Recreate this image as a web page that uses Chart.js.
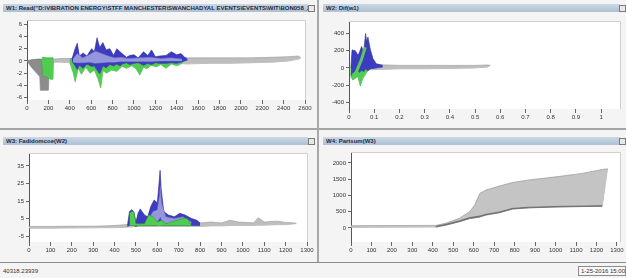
<!DOCTYPE html>
<html>
<head>
<meta charset="utf-8">
<script src="https://cdn.jsdelivr.net/npm/chart.js@4.4.0/dist/chart.umd.min.js"></script>
<style>
  html, body { margin: 0; padding: 0; width: 626px; height: 278px; overflow: hidden; background: #f4f4f4; font-family: "Liberation Sans", Arial, sans-serif; }
  .bar { position: absolute; height: 8px; background: linear-gradient(#cbd8e5, #adbfd1); color: #1b2b48; font-size: 6px; font-weight: bold; line-height: 8px; padding-left: 3px; white-space: nowrap; overflow: hidden; box-sizing: border-box; }
  .pin { position: absolute; width: 5px; height: 5px; border: 1px solid #7a7a7a; background: #e8e8e8; }
  .hline { position: absolute; left: 0; width: 626px; background: #a4a4a4; }
  .vline { position: absolute; width: 2px; background: #a8a8a8; }
  canvas { position: absolute; }
  .status { position: absolute; font-size: 6px; color: #333; white-space: nowrap; }
  #clock { position: absolute; left: 578px; top: 266px; width: 48px; height: 10px; border: 1px solid #8a8a8a; box-sizing: border-box; font-size: 6px; line-height: 8px; padding-left: 2px; color: #333; background: #f8f8f8; white-space: nowrap; overflow: hidden; }
</style>
</head>
<body>
<div class="bar" style="left:3px;top:4px;width:305px">W1: Read("D:\VIBRATION ENERGY\STFF MANCHESTER\SWANCHADYAL EVENTS\EVENTS\WIT\BON058_2...</div>
<div class="pin" style="left:308px;top:5px"></div>
<div class="bar" style="left:323px;top:4px;width:297px">W2: Dif(w1)</div>
<div class="pin" style="left:619px;top:5px"></div>
<div class="bar" style="left:3px;top:137px;width:305px">W3: Fadidomcoe(W2)</div>
<div class="pin" style="left:308px;top:138px"></div>
<div class="bar" style="left:323px;top:137px;width:297px">W4: Partsum(W3)</div>
<div class="pin" style="left:619px;top:138px"></div>

<div class="hline" style="top:128px;height:2px"></div>
<div class="vline" style="left:317px;top:0;height:262px"></div>
<div class="hline" style="top:262px;height:1px;background:#8c8c8c"></div>
<div class="status" style="left:3px;top:268px">40318.23939</div>
<div id="clock">1-25-2016 15:00</div>

<canvas id="c1" width="316" height="100" style="left:0;top:14px"></canvas>
<canvas id="c2" width="305" height="112" style="left:321px;top:14px"></canvas>
<canvas id="c3" width="316" height="112" style="left:0;top:146px"></canvas>
<canvas id="c4" width="305" height="112" style="left:321px;top:146px"></canvas>

<script>
// ---- tick labels ----
const w1XTicks = [0, 200, 400, 600, 800, 1000, 1200, 1400, 1600, 1800, 2000, 2200, 2400, 2600];
const w1YTicks = [-6, -4, -2, 0, 2, 4, 6];
const w2XTicks = [0, 0.1, 0.2, 0.3, 0.4, 0.5, 0.6, 0.7, 0.8, 0.9, 1];
const w2YTicks = [-400, -200, 0, 200, 400];
const w3XTicks = [0, 100, 200, 300, 400, 500, 600, 700, 800, 900, 1000, 1100, 1200, 1300];
const w3YTicks = [-5, 5, 15, 25, 35];
const w4XTicks = [0, 100, 200, 300, 400, 500, 600, 700, 800, 900, 1000, 1100, 1200, 1300];
const w4YTicks = [0, 500, 1000, 1500, 2000];

// ---- W1: Read ----
const w1WedgeX  = [0, 40, 100, 120, 125, 200, 212];
const w1WedgeLo = [0, -1, -2.2, -2.6, -4.8, -4.8, 0];
const w1WedgeHi = [0, 0.2, 0.3, 0.3, 0.3, 0.3, 0.3];
const w1TailX  = [200, 260, 320, 400, 1400, 1500, 1700, 1900, 2100, 2300, 2450, 2540, 2560];
const w1TailLo = [-0.2, -0.2, -0.2, -0.3, -0.4, -0.5, -0.4, -0.4, -0.3, -0.2, 0, 0.3, 0.5];
const w1TailHi = [0.3, 0.3, 0.4, 0.4, 0.6, 0.5, 0.5, 0.5, 0.5, 0.6, 0.7, 0.8, 0.5];
const w1GreenAX  = [140, 150, 185, 220, 243, 248];
const w1GreenALo = [0, -2.4, -2.6, -3, -3, 0];
const w1GreenAHi = [0.5, 0.6, 0.5, 0.5, 0.5, 0.3];
const w1GreenX  = [400, 430, 450, 480, 510, 550, 590, 630, 665, 690, 710, 745, 790, 840, 890, 930, 980, 1020, 1055, 1090, 1120, 1160, 1210, 1250, 1300, 1350, 1400, 1430, 1460];
const w1GreenLo = [-0.3, -1.8, -3.4, -1.2, -2.2, -1, -2, -1.5, -3, -4.4, -1.6, -2, -1.5, -1.7, -0.9, -1.2, -0.8, -1.3, -2.3, -1, -1.3, -0.7, -1, -0.6, -1.2, -0.5, -0.8, -0.6, -0.2];
const w1GreenHi = [0.2, 0.5, 1.2, 0.5, 0.8, 0.3, 1.5, 0.6, 1.5, 0.8, 0.6, 1, 0.5, 0.6, 0.3, 0.5, 0.3, 0.4, 0.3, 0.5, 0.4, 0.3, 0.3, 0.2, 0.4, 0.2, 0.3, 0.2, 0.1];
const w1BlueX  = [420, 450, 470, 490, 525, 560, 605, 630, 655, 680, 710, 740, 775, 810, 840, 870, 890, 930, 960, 1000, 1040, 1090, 1130, 1165, 1200, 1240, 1300, 1350, 1400, 1440, 1475, 1500];
const w1BlueLo = [0, -0.8, -1.4, -0.7, -1.2, -0.5, -0.9, -0.8, -1.5, -2.1, -0.8, -1.1, -0.6, -0.8, -0.5, -0.8, -0.5, -0.3, -0.6, -0.4, -0.3, -0.7, -0.4, -0.6, -0.3, -0.4, -0.4, -0.3, -0.4, -0.2, 0, 0.1];
const w1BlueHi = [0.3, 2, 2.9, 0.8, 1.3, 0.8, 2, 1.5, 3.8, 2.2, 3, 1.8, 2, 0.9, 2, 1.5, 1.2, 0.6, 0.9, 1, 0.5, 1.5, 0.9, 1.8, 0.7, 0.8, 0.9, 1.5, 1, 1.2, 0.6, 0.3];
const w1LavX  = [430, 470, 520, 580, 640, 700, 760, 820, 880, 950, 1050, 1150, 1250, 1350, 1450];
const w1LavLo = [-0.2, -0.3, -0.3, -0.2, -0.4, -0.3, -0.2, -0.2, -0.1, -0.1, -0.1, -0.1, 0, 0, 0];
const w1LavHi = [0.3, 1.2, 0.5, 1, 1.6, 1.2, 0.8, 0.5, 0.6, 0.4, 0.5, 0.6, 0.4, 0.5, 0.3];

// ---- W2: Dif ----
const w2TailX  = [0.09, 0.15, 0.2, 0.3, 0.4, 0.5, 0.55, 0.56];
const w2TailLo = [-20, -15, -10, -10, -5, 0, 10, 30];
const w2TailHi = [40, 35, 30, 30, 30, 30, 35, 30];
const w2BlueX  = [0.008, 0.012, 0.025, 0.035, 0.04, 0.05, 0.058, 0.066, 0.07, 0.075, 0.085, 0.095, 0.108, 0.12, 0.134];
const w2BlueLo = [-100, -60, -40, -20, -50, -30, -40, -10, -20, -30, -10, -5, 0, 5, 10];
const w2BlueHi = [20, 210, 200, 150, 170, 250, 180, 400, 300, 360, 210, 110, 50, 40, 30];
const w2GreenX  = [0.005, 0.015, 0.025, 0.035, 0.045, 0.055, 0.062, 0.07, 0.08, 0.09, 0.1];
const w2GreenLo = [-60, -140, -120, -100, -210, -120, -90, -50, -20, -10, 0];
const w2GreenHi = [0, 60, 80, 40, 120, 200, 240, 130, 60, 30, 10];
const w2StreakX = [0.01, 0.03, 0.05, 0.06, 0.065];
const w2StreakY = [-120, -40, 100, 200, 240];

// ---- W3: Fadidomcoe ----
const w3BaseX  = [0, 100, 200, 300, 400, 450, 500, 600, 700, 800, 850, 900, 940, 980, 1050, 1073, 1100, 1158, 1200, 1244, 1250];
const w3BaseLo = [-0.5, -0.5, -0.4, -0.3, -0.2, 0, 0.5, 0.5, 0.5, 0.5, 0.8, 0.8, 1, 1, 1, 1.2, 1.2, 1.5, 1.5, 2, 2];
const w3BaseHi = [0.5, 0.5, 0.6, 0.6, 1, 1.5, 1.5, 2, 2, 2.5, 3, 2.5, 4, 3, 2.5, 5.5, 3, 3.5, 2.8, 2.5, 2];
const w3BlueX  = [460, 470, 480, 490, 500, 510, 520, 540, 555, 570, 585, 600, 608, 613, 618, 630, 652, 680, 705, 730, 760, 785, 800];
const w3BlueLo = [0.5, 1, 1, 1, 0.5, 1, 1, 1, 1, 1, 1, 1, 2, 3, 1, 1, 1, 1, 1, 1, 1, 1, 1];
const w3BlueHi = [1, 9, 10, 9, 3, 8, 10.5, 7, 6, 12, 15.6, 14, 25, 32.5, 22, 9, 7, 6, 8, 7, 5, 4, 2.5];
const w3LavX  = [560, 580, 600, 610, 614, 620, 640, 680, 720, 760];
const w3LavLo = [2, 2, 3, 5, 6, 4, 2, 2, 2, 2];
const w3LavHi = [5, 9, 10, 18, 24, 14, 6, 5, 6, 3];
const w3GreenX  = [470, 480, 490, 500, 540, 560, 580, 600, 620, 640, 720, 740, 760];
const w3GreenLo = [1, 1, 1, 1, 1, 1, 1, 1, 1, 1, 1, 1, 1];
const w3GreenHi = [8, 9, 9, 2, 2, 7, 6, 3, 4, 2, 5, 5, 1];

// ---- W4: Partsum ----
const w4X  = [0, 400, 415, 465, 530, 580, 605, 630, 660, 725, 790, 870, 950, 1033, 1130, 1228, 1254];
const w4Lo = [20, 30, 30, 90, 195, 290, 310, 340, 400, 470, 585, 620, 640, 650, 660, 670, 1820];
const w4Hi = [70, 80, 80, 150, 300, 500, 710, 1066, 1170, 1290, 1400, 1480, 1535, 1600, 1680, 1800, 1820];
const w4DarkX  = [415, 465, 530, 580, 630, 660, 725, 790, 870, 1033, 1228];
const w4DarkLo = [30, 90, 195, 290, 340, 400, 470, 585, 620, 650, 670];
const w4DarkHi = [50, 115, 225, 320, 370, 425, 495, 605, 640, 668, 688];

// ---- helpers ----
const tickFont = { family: '"Liberation Sans", Arial, sans-serif', size: 6 };

function band(xs, lo, hi, fillColor, lineColor) {
  return [
    { data: xs.map((x, i) => ({ x, y: lo[i] })), borderColor: lineColor, borderWidth: 0.6, pointRadius: 0, fill: false },
    { data: xs.map((x, i) => ({ x, y: hi[i] })), borderColor: lineColor, borderWidth: 0.6, pointRadius: 0, fill: '-1', backgroundColor: fillColor }
  ];
}

function line(xs, ys, color, width) {
  return { data: xs.map((x, i) => ({ x, y: ys[i] })), borderColor: color, borderWidth: width, pointRadius: 0, fill: false };
}

// later datasets on top
function stack(list) {
  list.forEach((d, i) => { d.order = -i; });
  return list;
}

const plotFrame = {
  id: 'plotFrame',
  beforeDraw(c) {
    const a = c.chartArea, ctx = c.ctx;
    ctx.save();
    ctx.fillStyle = '#ffffff';
    ctx.fillRect(a.left, a.top, a.right - a.left, a.bottom - a.top);
    ctx.restore();
  },
  afterDraw(c) {
    const a = c.chartArea, ctx = c.ctx;
    ctx.save();
    ctx.strokeStyle = '#cfcfcf';
    ctx.lineWidth = 1;
    ctx.beginPath();
    ctx.moveTo(a.left, a.top + 0.5);
    ctx.lineTo(a.right + 0.5, a.top + 0.5);
    ctx.lineTo(a.right + 0.5, a.bottom);
    ctx.stroke();
    ctx.restore();
  }
};

function makeChart(id, datasets, o) {
  return new Chart(document.getElementById(id), {
    type: 'line',
    data: { datasets: stack(datasets) },
    options: {
      responsive: false,
      animation: false,
      events: [],
      layout: { padding: { top: o.padTop, right: o.padRight, left: 0, bottom: 0 }, autoPadding: false },
      plugins: { legend: { display: false }, tooltip: { enabled: false } },
      scales: {
        x: {
          type: 'linear', min: o.xMin, max: o.xMax,
          afterBuildTicks: s => { s.ticks = o.xTicks.map(v => ({ value: v })); },
          afterFit: s => { s.height = o.xH; },
          grid: { drawOnChartArea: false, tickLength: 4, tickColor: '#666', color: '#666' },
          border: { display: false },
          ticks: { font: tickFont, color: '#333', padding: 1, maxRotation: 0, autoSkip: false, callback: v => String(v) }
        },
        y: {
          type: 'linear', min: o.yMin, max: o.yMax,
          afterBuildTicks: s => { s.ticks = o.yTicks.map(v => ({ value: v })); },
          afterFit: s => { s.width = o.yW; },
          grid: { drawOnChartArea: false, tickLength: 3, tickColor: '#666', color: '#666' },
          border: { display: true, color: '#555', width: 1 },
          ticks: { font: tickFont, color: '#333', padding: 2, autoSkip: false, callback: v => String(v) }
        }
      }
    },
    plugins: [plotFrame]
  });
}

const gray = 'rgba(140,140,140,1)', grayLine = 'rgb(110,110,110)';
const lightGray = 'rgba(190,190,190,1)', lightLine = 'rgb(150,150,150)';
const blue = 'rgba(60,60,195,1)', blueLine = 'rgb(40,40,150)';
const lav = 'rgba(150,150,220,1)', lavLine = 'rgb(110,110,190)';
const green = 'rgba(80,205,80,1)', greenLine = 'rgb(40,160,40)';

makeChart('c1', [
  ...band(w1TailX, w1TailLo, w1TailHi, lightGray, lightLine),
  ...band(w1WedgeX, w1WedgeLo, w1WedgeHi, gray, grayLine),
  ...band(w1GreenAX, w1GreenALo, w1GreenAHi, green, greenLine),
  ...band(w1GreenX, w1GreenLo, w1GreenHi, green, greenLine),
  ...band(w1BlueX, w1BlueLo, w1BlueHi, blue, blueLine),
  ...band(w1LavX, w1LavLo, w1LavHi, lav, lavLine)
], { xMin: 0, xMax: 2600, yMin: -6.4, yMax: 6.7, xTicks: w1XTicks, yTicks: w1YTicks, yW: 27, xH: 14, padTop: 6, padRight: 11 });

makeChart('c2', [
  ...band(w2TailX, w2TailLo, w2TailHi, lightGray, lightLine),
  ...band(w2GreenX, w2GreenLo, w2GreenHi, green, greenLine),
  ...band(w2BlueX, w2BlueLo, w2BlueHi, blue, blueLine),
  line(w2StreakX, w2StreakY, 'rgb(90,200,90)', 3)
], { xMin: 0, xMax: 1.075, yMin: -477, yMax: 546, xTicks: w2XTicks, yTicks: w2YTicks, yW: 28, xH: 17, padTop: 7, padRight: 6 });

makeChart('c3', [
  ...band(w3BaseX, w3BaseLo, w3BaseHi, lightGray, lightLine),
  ...band(w3BlueX, w3BlueLo, w3BlueHi, blue, blueLine),
  ...band(w3LavX, w3LavLo, w3LavHi, lav, lavLine),
  ...band(w3GreenX, w3GreenLo, w3GreenHi, green, greenLine)
], { xMin: 0, xMax: 1300, yMin: -8.4, yMax: 42.4, xTicks: w3XTicks, yTicks: w3YTicks, yW: 29, xH: 16, padTop: 7, padRight: 9 });

makeChart('c4', [
  ...band(w4X, w4Lo, w4Hi, 'rgba(196,196,196,1)', 'rgb(140,140,140)'),
  ...band(w4DarkX, w4DarkLo, w4DarkHi, 'rgba(120,120,120,1)', 'rgb(90,90,90)')
], { xMin: 0, xMax: 1315, yMin: -431, yMax: 2338, xTicks: w4XTicks, yTicks: w4YTicks, yW: 30, xH: 16, padTop: 6, padRight: 6 });
</script>
</body>
</html>
